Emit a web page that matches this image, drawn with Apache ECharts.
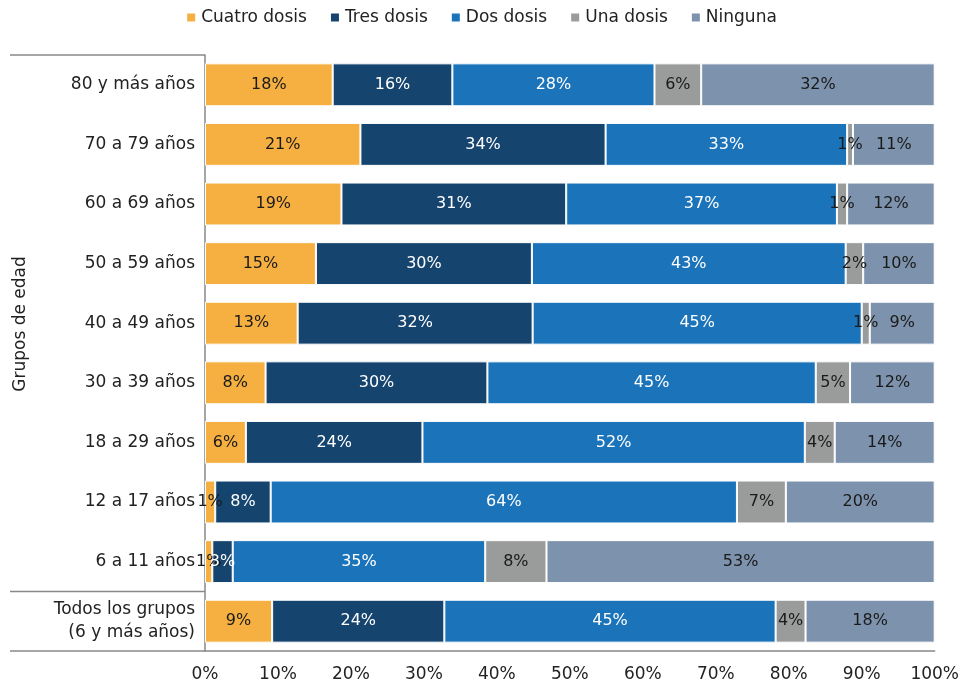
<!DOCTYPE html>
<html>
<head>
<meta charset="utf-8">
<script src="https://cdn.jsdelivr.net/npm/echarts@6/dist/echarts.min.js"></script>
<style>
  html, body { margin: 0; padding: 0; background: #fff; }
  #main { width: 962px; height: 683px; }
</style>
</head>
<body>
<div id="main"></div>
<script>
var grupos = ['80 y más años', '70 a 79 años', '60 a 69 años', '50 a 59 años', '40 a 49 años',
  '30 a 39 años', '18 a 29 años', '12 a 17 años', '6 a 11 años', 'Todos los grupos\n(6 y más años)'];
var cuatroDosis = [17.5, 21.3, 18.7, 15.2, 12.7, 8.3, 5.6, 1.4, 1.0, 9.2];
var tresDosis   = [16.4, 33.6, 30.8, 29.6, 32.2, 30.4, 24.2, 7.6, 2.8, 23.6];
var dosDosis    = [27.7, 33.1, 37.1, 43.0, 45.1, 45.0, 52.4, 63.9, 34.6, 45.4];
var unaDosis    = [6.4, 0.8, 1.4, 2.4, 1.1, 4.7, 4.1, 6.7, 8.4, 4.1];
var ninguna     = [32.0, 11.2, 12.0, 9.8, 8.9, 11.6, 13.7, 20.4, 53.2, 17.7];
var xTicks = [0, 10, 20, 30, 40, 50, 60, 70, 80, 90, 100];

var myColor = ['#F5B041', '#15446F', '#1B73BA', '#9A9B9B', '#7D92AC'];
var fontName = 'DejaVu Sans';

function serie(name, data, labelColor) {
  return {
    name: name,
    type: 'bar',
    stack: 'total',
    data: data,
    barCategoryGap: '28%',
    itemStyle: { borderColor: '#fff', borderWidth: 1 },
    label: {
      show: true,
      position: 'inside',
      color: labelColor,
      fontSize: 16,
      fontFamily: fontName,
      formatter: function (p) { return Math.round(p.value) + '%'; }
    }
  };
}

var myChart = echarts.init(document.getElementById('main'));
myChart.setOption({
  color: myColor,
  animation: false,
  legend: {
    top: 4,
    left: 'center',
    itemWidth: 10,
    itemHeight: 10,
    itemGap: 22,
    icon: 'rect',
    textStyle: { fontSize: 17, fontFamily: fontName, color: '#222' },
    data: ['Cuatro dosis', 'Tres dosis', 'Dos dosis', 'Una dosis', 'Ninguna']
  },
  grid: { left: 205, right: 25, top: 55, bottom: 31 },
  xAxis: {
    type: 'value',
    min: 0,
    max: 100,
    interval: 10,
    axisLine: { show: true, lineStyle: { color: '#888', width: 1.5 } },
    axisTick: { show: false },
    splitLine: { show: false },
    axisLabel: {
      formatter: function (v) { return v + '%'; },
      fontSize: 17, fontFamily: fontName, color: '#222', margin: 15
    }
  },
  yAxis: {
    type: 'category',
    inverse: true,
    data: grupos,
    name: 'Grupos de edad',
    nameLocation: 'middle',
    nameRotate: 90,
    nameGap: 176,
    nameTextStyle: { fontSize: 17, fontFamily: fontName, color: '#222', padding: [0, 0, 0, 58] },
    axisLine: { show: true, lineStyle: { color: '#888', width: 1.5 } },
    axisTick: { show: false },
    axisLabel: { fontSize: 17, fontFamily: fontName, color: '#222', margin: 10, lineHeight: 23 }
  },
  series: [
    serie('Cuatro dosis', cuatroDosis, '#1a1a1a'),
    serie('Tres dosis', tresDosis, '#fff'),
    serie('Dos dosis', dosDosis, '#fff'),
    serie('Una dosis', unaDosis, '#1a1a1a'),
    serie('Ninguna', ninguna, '#1a1a1a')
  ]
});

// category boundary lines that extend into the label area
var c0 = myChart.convertToPixel({ yAxisIndex: 0 }, grupos[0]);
var c1 = myChart.convertToPixel({ yAxisIndex: 0 }, grupos[1]);
var band = c1 - c0;
var yTop = c0 - band / 2;
var ySep = myChart.convertToPixel({ yAxisIndex: 0 }, grupos[grupos.length - 1]) - band / 2;
var yBot = ySep + band;
var xZero = myChart.convertToPixel({ xAxisIndex: 0 }, 0);
var lineStyle = { stroke: '#888', lineWidth: 1.5 };
myChart.setOption({
  graphic: [
    { type: 'line', shape: { x1: 10, y1: yTop, x2: xZero, y2: yTop }, style: lineStyle },
    { type: 'line', shape: { x1: 10, y1: ySep, x2: xZero, y2: ySep }, style: lineStyle },
    { type: 'line', shape: { x1: 10, y1: yBot, x2: xZero, y2: yBot }, style: lineStyle }
  ]
});
</script>
</body>
</html>
